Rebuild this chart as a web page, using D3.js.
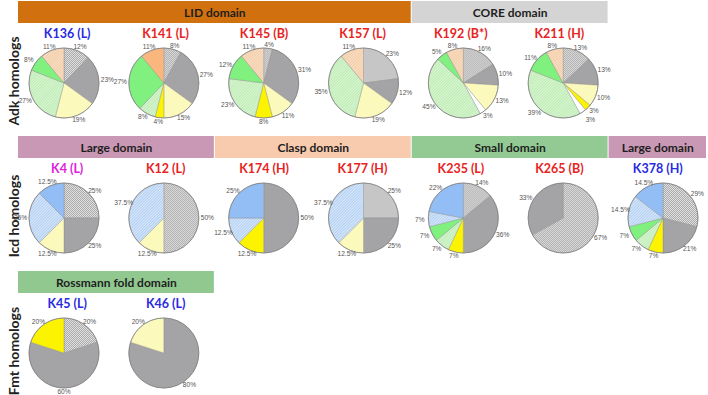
<!doctype html>
<html>
<head>
<meta charset="utf-8">
<title>Lysine site pies</title>
<script src="https://d3js.org/d3.v7.min.js"></script>
<style>body{margin:0;background:#fff}</style>
</head>
<body>
<script>
// slice categories, clockwise order from 12 o'clock
const categories = ['grayHatch', 'gray', 'lightYellow', 'yellow', 'white', 'greenHatch', 'green', 'blueHatch', 'blue', 'peachHatch', 'orange'];

// Adk homologs
const adkSites = ['K136 (L)', 'K141 (L)', 'K145 (B)', 'K157 (L)', 'K192 (B*)', 'K211 (H)'];
const adkKinds = ['b', 'r', 'r', 'r', 'r', 'r'];
const adkValues = [
  [12, 23, 19, 0, 0, 27, 8, 0, 0, 11, 0],
  [8, 27, 15, 4, 0, 8, 27, 0, 0, 0, 11],
  [4, 31, 11, 8, 0, 23, 12, 0, 0, 11, 0],
  [23, 12, 19, 0, 0, 35, 0, 0, 0, 11, 0],
  [16, 10, 13, 0, 3, 45, 5, 0, 0, 8, 0],
  [13, 13, 10, 3, 3, 39, 11, 0, 0, 8, 0]
];
const adkDomains = [['LID domain', 0, 4], ['CORE domain', 4, 6]];

// Icd homologs
const icdSites = ['K4 (L)', 'K12 (L)', 'K174 (H)', 'K177 (H)', 'K235 (L)', 'K265 (B)', 'K378 (H)'];
const icdKinds = ['m', 'r', 'r', 'r', 'r', 'r', 'b'];
const icdValues = [
  [25, 25, 12.5, 0, 0, 0, 0, 25, 12.5, 0, 0],
  [50, 0, 12.5, 0, 0, 0, 0, 37.5, 0, 0, 0],
  [0, 50, 0, 12.5, 0, 0, 0, 12.5, 25, 0, 0],
  [25, 25, 12.5, 0, 0, 0, 0, 37.5, 0, 0, 0],
  [14, 36, 0, 7, 0, 7, 7, 7, 22, 0, 0],
  [67, 33, 0, 0, 0, 0, 0, 0, 0, 0, 0],
  [29, 21, 0, 7, 0, 7, 7, 14.5, 14.5, 0, 0]
];
const icdDomains = [['Large domain', 0, 2], ['Clasp domain', 2, 4], ['Small domain', 4, 6], ['Large domain', 6, 7]];

// Fmt homologs
const fmtSites = ['K45 (L)', 'K46 (L)'];
const fmtKinds = ['b', 'b'];
const fmtValues = [
  [20, 60, 0, 20, 0, 0, 0, 0, 0, 0, 0],
  [0, 80, 20, 0, 0, 0, 0, 0, 0, 0, 0]
];
const fmtDomains = [['Rossmann fold domain', 0, 2]];

const rowNames = ['Adk homologs', 'Icd homologs', 'Fmt homologs'];

const width = 708, height = 395;
const svg = d3.select('body').append('svg')
    .attr('width', width)
    .attr('height', height);

// patterns
const defs = svg.append('defs');
const checker = defs.append('pattern').attr('id', 'grayHatch')
    .attr('width', 2).attr('height', 2).attr('patternUnits', 'userSpaceOnUse');
checker.append('rect').attr('width', 2).attr('height', 2).attr('fill', '#e0e0e0');
checker.append('rect').attr('width', 1).attr('height', 1).attr('fill', '#ababab');
checker.append('rect').attr('x', 1).attr('y', 1).attr('width', 1).attr('height', 1).attr('fill', '#ababab');

function diag(id, bg, line) {
  const p = defs.append('pattern').attr('id', id)
      .attr('width', 2).attr('height', 2).attr('patternUnits', 'userSpaceOnUse')
      .attr('patternTransform', 'rotate(45)');
  p.append('rect').attr('width', 2).attr('height', 2).attr('fill', bg);
  p.append('rect').attr('width', 1).attr('height', 2).attr('fill', line);
}
diag('greenHatch', '#daf6d3', '#bdebb4');
diag('blueHatch', '#d9e8fa', '#b2cff2');
diag('peachHatch', '#f9e0c8', '#f2cba4');

const fill = d3.scaleOrdinal()
    .domain(categories)
    .range(['url(#grayHatch)', '#a4a4a6', '#fcf9bc', '#fbf300', '#ffffff', 'url(#greenHatch)',
            '#80f07e', 'url(#blueHatch)', '#92bef5', 'url(#peachHatch)', '#f9b77e']);

const kindColor = d3.scaleOrdinal().domain(['b', 'r', 'm']).range(['#2a2ae0', '#e82323', '#dd22dd']);

const domainColor = d3.scaleOrdinal()
    .domain(['LID domain', 'CORE domain', 'Large domain', 'Clasp domain', 'Small domain', 'Rossmann fold domain'])
    .range(['#d0700f', '#d4d4d4', '#c998b4', '#f8cbae', '#93c993', '#90c890']);

// column edges for domain bars, column centres for pies
const edge = d3.scaleLinear().domain([0, 7]).range([18, 707]);
const pieX = d3.scaleLinear().domain([0, 6]).range([64, 663]);
const rowTop = d3.scalePoint().domain(rowNames).range([1, 271]);

const r = 35;
const pie = d3.pie().sort(null).value(d => d.v);
const arc = d3.arc().innerRadius(0).outerRadius(r);
// labels sit on an ellipse a little wider than tall;
// a tiny slice right after another tiny one is pushed a bit further out
const labelPos = (d, i, all) => {
  const a = (d.startAngle + d.endAngle) / 2;
  const prev = all[i - 1];
  const extra = (prev && d.data.v < 5 && prev.data.v < 5) ? 5 : 0;
  return [Math.sin(a) * (r + 8.5 + extra), -Math.cos(a) * (r + 4 + extra)];
};

const rows = [
  {name: rowNames[0], sites: adkSites, kinds: adkKinds, values: adkValues, domains: adkDomains},
  {name: rowNames[1], sites: icdSites, kinds: icdKinds, values: icdValues, domains: icdDomains},
  {name: rowNames[2], sites: fmtSites, kinds: fmtKinds, values: fmtValues, domains: fmtDomains}
];

rows.forEach(row => {
  const top = rowTop(row.name);
  const g = svg.append('g').attr('transform', `translate(0,${top})`);

  // row label
  g.append('text')
      .attr('transform', 'translate(19,80) rotate(-90)')
      .attr('text-anchor', 'middle')
      .attr('font-family', 'Lato, sans-serif')
      .attr('font-weight', 'bold')
      .attr('font-size', 14)
      .attr('fill', '#222')
      .text(row.name);

  // domain bars
  row.domains.forEach(([label, a, b]) => {
    g.append('rect')
        .attr('x', edge(a)).attr('y', 0)
        .attr('width', edge(b) - edge(a) - 1).attr('height', 22)
        .attr('fill', domainColor(label));
    g.append('text')
        .attr('x', (edge(a) + edge(b)) / 2).attr('y', 15.5)
        .attr('text-anchor', 'middle')
        .attr('font-family', 'Lato, sans-serif')
        .attr('font-weight', 'bold')
        .attr('font-size', 12)
        .attr('fill', '#1e1e1e')
        .text(label);
  });

  row.sites.forEach((site, i) => {
    g.append('text')
        .attr('x', edge(i + 0.5)).attr('y', 37)
        .attr('text-anchor', 'middle')
        .attr('font-family', 'Lato, sans-serif')
        .attr('font-weight', 'bold')
        .attr('font-size', 12.5)
        .attr('fill', kindColor(row.kinds[i]))
        .text(site);

    const data = categories.map((c, k) => ({c, v: row.values[i][k]}));
    const arcs = pie(data).filter(d => d.data.v > 0);
    const pg = g.append('g').attr('transform', `translate(${pieX(i)},82)`);

    pg.selectAll('path')
      .data(arcs)
      .enter().append('path')
        .attr('d', arc)
        .attr('fill', d => fill(d.data.c))
        .attr('stroke', '#8a8a8a')
        .attr('stroke-width', 0.4);

    pg.append('circle')
        .attr('r', r)
        .attr('fill', 'none')
        .attr('stroke', '#808080')
        .attr('stroke-width', 0.8);

    pg.selectAll('text')
      .data(arcs)
      .enter().append('text')
        .attr('transform', (d, k) => `translate(${labelPos(d, k, arcs)})`)
        .attr('text-anchor', 'middle')
        .attr('dy', '0.35em')
        .attr('font-family', 'Liberation Sans, Arial, sans-serif')
        .attr('font-size', 6.6)
        .attr('fill', '#555')
        .text(d => d.data.v + '%');
  });
});
</script>
</body>
</html>
